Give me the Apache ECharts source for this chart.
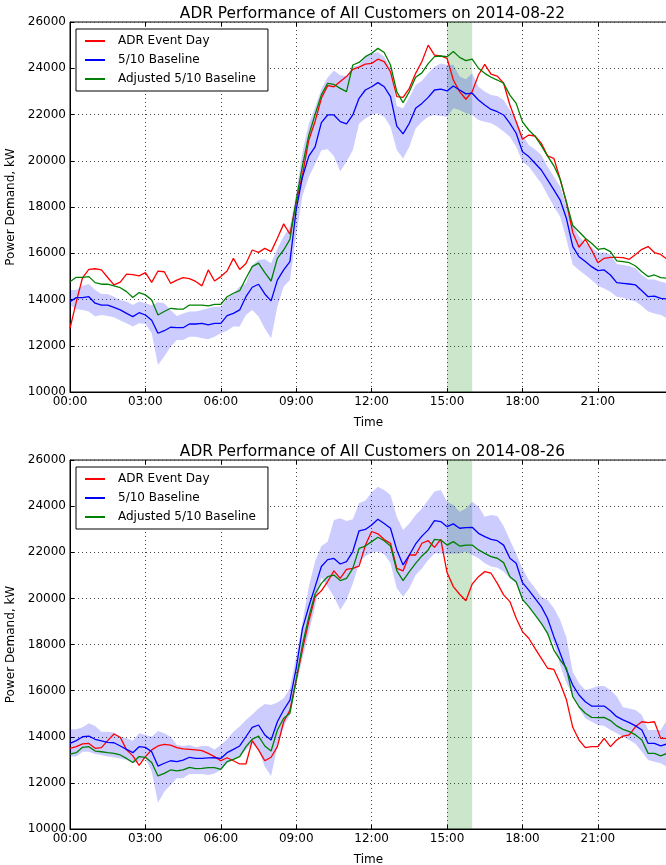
<!DOCTYPE html>
<html><head><meta charset="utf-8">
<script src="https://cdn.jsdelivr.net/npm/echarts@6/dist/echarts.min.js"></script>
<style>html,body{margin:0;padding:0;background:#fff}#c{width:666px;height:865px}</style>
</head><body><div id="c"></div>
<script>
// ---- data (15-minute intervals, 00:00 .. 23:45) ----
const titles = ['ADR Performance of All Customers on 2014-08-22', 'ADR Performance of All Customers on 2014-08-26'];
const seriesNames = ['ADR Event Day', '5/10 Baseline', 'Adjusted 5/10 Baseline'];
const eventStart = '15:00', eventEnd = '16:00';
const yMin = 10000, yMax = 26000, yStep = 2000;

const topRed = [12750,13900,14950,15300,15330,15280,14950,14630,14750,15100,15080,15020,15160,14740,15230,15200,14700,14840,14950,14900,14780,14590,15280,14800,
14990,15230,15780,15300,15560,16140,16040,16210,16070,16650,17270,16820,18200,19400,20900,21700,22700,23250,23200,23430,23640,23950,24050,24180,
24210,24390,24290,23850,22770,22740,23130,23780,24290,25000,24570,24530,24430,23490,22990,22660,22990,23710,24170,23750,23660,23350,22410,21690,
20930,21110,21070,20750,20210,20100,19200,18200,16900,16260,16600,16140,15590,15780,15820,15820,15810,15740,15950,16170,16290,16030,15950,15740];
const topBlue = [13910,14080,14080,14120,13840,13760,13760,13660,13550,13400,13260,13430,13330,13100,12540,12650,12800,12780,12780,12940,12940,12970,12900,12970,
12970,13300,13400,13550,14120,14530,14660,14240,13940,14840,15280,15640,17900,19300,20200,20600,21650,21980,21980,21690,21590,21980,22700,23060,
23200,23380,23200,22770,21500,21160,21620,22270,22480,22740,23060,23100,23020,23230,23060,22890,22920,22630,22410,22220,22120,21980,21620,21190,
20390,20180,19890,19600,19170,18740,18300,17500,16300,15850,15640,15420,15250,15280,15060,14730,14700,14670,14630,14380,14120,14150,14050,14020];
const topGreen = [14770,14960,14960,14990,14730,14660,14660,14590,14510,14340,14090,14300,14200,13980,13330,13480,13620,13590,13580,13760,13760,13760,13720,13790,
13790,14120,14270,14380,14920,15420,15570,15160,14800,15780,16140,16600,18300,19800,21100,22000,22850,23350,23300,23130,22990,24140,24250,24500,
24650,24860,24680,24140,22990,22510,22990,23610,23800,24200,24500,24530,24500,24720,24470,24330,24390,24000,23780,23610,23490,23350,22840,22480,
21680,21330,21060,20650,20200,19780,19200,18200,17200,16930,16650,16430,16170,16210,16070,15670,15640,15590,15450,15200,14990,15060,14950,14920];
const topBandLow = [13760,13580,13550,13480,13260,13330,13290,13230,13090,12970,12830,12970,12940,12540,11170,11530,11960,12250,12250,12390,12390,12320,12280,12390,
12540,12650,12830,12830,13330,13550,13260,12750,12320,13690,14560,14840,16800,18500,19300,19850,20450,20500,20200,19530,19960,20450,21600,21830,
21980,22050,21900,21470,20470,20100,20610,21400,21690,21900,21980,21940,21900,22270,22200,22050,21980,21760,21690,21620,21470,21260,21040,20610,
19960,19750,19380,19020,18520,18020,17580,16600,15500,15280,15060,14840,14590,14480,14340,14120,14080,13980,13910,13720,13480,13400,13330,13190];
const topBandHigh = [14410,14410,14590,14670,14410,14240,14240,14120,13980,13910,13760,13910,13840,13750,13880,13840,13550,13290,13400,13480,13480,13550,13620,13690,
13690,14050,14270,14560,14700,15490,15710,15740,15570,16210,16720,17150,18600,20400,21600,22300,23100,23600,23900,23700,23660,24070,24140,24500,
24650,24690,24500,24000,22370,22270,22740,23280,23460,23780,24070,24210,24140,24150,23640,23520,23780,23200,22990,22840,22800,22630,22200,21760,
21110,20680,20490,20250,19750,19310,18880,18100,17220,16720,16430,16260,16030,16030,15950,15540,15490,15450,15350,15060,14870,14870,14770,14700];

const botRed = [13500,13570,13690,13710,13500,13530,13830,14120,13980,13430,13170,12760,13140,13430,13600,13670,13640,13530,13470,13450,13430,13400,13280,13140,
12960,13090,12960,12820,12820,13830,13430,12960,13110,13570,14650,15160,16460,17800,19000,20070,20330,20730,21190,20870,21260,21300,21400,22300,
22900,22800,22550,22390,21300,21190,21880,21880,22390,22500,22210,22560,21120,20510,20180,19900,20620,20940,21160,21090,20650,20150,19860,19140,
18560,18270,17830,17400,16970,16920,16320,15600,14410,13860,13530,13570,13570,13930,13570,13860,14030,14080,14440,14650,14610,14650,13930,13930];
const botBlue = [13710,13830,14000,14030,13890,13820,13760,13740,13600,13450,13310,13570,13540,13350,12730,12850,12960,12920,12990,13110,13060,13060,13080,13090,
13060,13310,13450,13600,14000,14410,14510,14080,13860,14650,15160,15590,16980,18700,19650,20500,21380,21680,21730,21490,21590,22030,22930,22990,
23180,23430,23250,23040,22100,21450,21880,22360,22700,22970,23370,23330,23110,23230,23040,23070,23080,22820,22680,22560,22500,22310,21740,21520,
20680,20360,20000,19640,19130,18340,17620,16890,16240,15810,15520,15330,15330,15330,15130,14870,14730,14610,14470,14290,13710,13710,13600,13690];
const botGreen = [13250,13310,13540,13570,13380,13350,13310,13280,13210,13060,12880,13140,13110,12880,12300,12410,12560,12520,12560,12670,12620,12630,12660,12660,
12590,12920,13020,13140,13570,13890,14030,13600,13380,14290,14800,15020,16490,18000,19200,20200,20650,20940,21010,20770,20870,21300,22170,22270,
22460,22650,22500,22270,21200,20770,21160,21520,21840,22100,22560,22530,22310,22460,22270,22310,22310,22100,21950,21810,21740,21550,20940,20720,
19960,19640,19280,18920,18480,17760,17330,16970,15740,15300,15020,14840,14830,14840,14700,14470,14320,14220,14080,13860,13280,13280,13170,13280];
const botBandLow = [13140,13140,13350,13350,13250,13210,13140,13110,13060,12990,12850,12920,13060,12490,11140,11620,11910,12200,12200,12390,12390,12390,12340,12410,
12560,12850,12990,13140,13430,13710,13430,12700,12300,13570,14440,14940,16200,17400,18500,19640,20900,20500,20070,19500,19930,20650,21520,21840,
21980,22030,21910,21520,20440,20070,20440,21010,21300,21660,21950,21950,21910,21950,21950,22030,21880,21740,21520,21380,21330,21160,20870,20650,
19930,19640,19280,18850,18410,18050,17100,16320,15810,15230,14800,14650,14510,14470,14290,14150,14000,13860,13690,13350,12990,12920,12850,12700];
const botBandHigh = [14320,14320,14410,14580,14470,14220,14220,14180,14000,13930,13830,14150,14080,14000,14250,14150,14000,13640,13600,13640,13540,13600,13600,13450,
13640,13890,14220,14440,14730,14970,15230,15420,15380,15480,15670,16100,17500,19000,20500,21600,22270,22460,23400,23470,23360,23430,24120,24240,
24600,24840,24700,24480,23540,22970,23250,23620,23900,24270,24630,24700,24190,24050,23760,23900,24190,23980,23540,23620,23570,23140,22530,21950,
21300,20800,20440,20070,19930,19570,19060,18300,16820,16320,16030,16100,16200,16200,16030,15740,15280,15230,15160,14940,14290,14290,14290,14730];

// category labels: every quarter hour
const times = [];
for (let h = 0; h < 24; h++) for (let m = 0; m < 60; m += 15)
  times.push(String(h).padStart(2,'0') + ':' + String(m).padStart(2,'0'));

// ---- layout ----
const FONT = 'DejaVu Sans';
const grids = [
  {left: 70, top: 22, width: 597, height: 370},
  {left: 70, top: 460, width: 597, height: 369}
];
const sets = [
  {red: topRed, blue: topBlue, green: topGreen, lo: topBandLow, hi: topBandHigh},
  {red: botRed, blue: botBlue, green: botGreen, lo: botBandLow, hi: botBandHigh}
];

const option = {
  animation: false,
  backgroundColor: '#fff',
  textStyle: {fontFamily: FONT},
  title: grids.map((g, k) => ({
    text: titles[k], left: g.left + g.width / 2 - 1, textAlign: 'center', top: g.top - 21,
    textStyle: {fontFamily: FONT, fontSize: 15.4, fontWeight: 'normal', color: '#000'}
  })),
  legend: grids.map((g, k) => ({
    data: seriesNames, orient: 'vertical', left: 76, top: g.top + 7,
    backgroundColor: '#fff', borderColor: '#000', borderWidth: 1, borderRadius: 0,
    padding: [5, 12, 5, 9], itemGap: 5, itemWidth: 20, itemHeight: 2, icon: 'rect',
    textStyle: {fontFamily: FONT, fontSize: 12, color: '#000', lineHeight: 14, padding: [0, 0, 0, 8]}
  })),
  grid: grids.map(g => Object.assign({show: true, borderColor: '#000', borderWidth: 1, backgroundColor: 'transparent',
    containLabel: false, outerBoundsMode: 'none'}, g)),
  xAxis: [],
  yAxis: [],
  series: []
};

grids.forEach((g, k) => {
  option.xAxis.push({
    type: 'category', gridIndex: k, data: times, boundaryGap: false,
    name: 'Time', nameLocation: 'middle', nameGap: 25,
    nameTextStyle: {fontFamily: FONT, fontSize: 12, color: '#000'},
    axisLine: {show: true, lineStyle: {color: '#000', width: 1}},
    axisTick: {show: true, inside: true, interval: 11, length: 4, lineStyle: {color: '#000'}},
    axisLabel: {interval: 11, margin: 4, fontFamily: FONT, fontSize: 12, color: '#000'},
    splitLine: {show: true, interval: 11, lineStyle: {color: '#444', type: [1, 3], width: 1}}
  });
  option.xAxis.push({
    type: 'category', gridIndex: k, data: times, boundaryGap: false, position: 'top',
    axisLine: {show: false},
    axisTick: {show: true, inside: true, interval: 11, length: 4, lineStyle: {color: '#000'}},
    axisLabel: {show: false}, splitLine: {show: false}
  });
  option.yAxis.push({
    type: 'value', gridIndex: k, min: yMin, max: yMax, interval: yStep,
    name: 'Power Demand, kW', nameLocation: 'middle', nameGap: 53, nameRotate: 90,
    nameTextStyle: {fontFamily: FONT, fontSize: 12, color: '#000'},
    axisLine: {show: true, lineStyle: {color: '#000', width: 1}},
    axisTick: {show: true, inside: true, length: 4, lineStyle: {color: '#000'}},
    axisLabel: {margin: 4, fontFamily: FONT, fontSize: 12, color: '#000', formatter: v => String(v)},
    splitLine: {show: true, lineStyle: {color: '#444', type: [1, 3], width: 1}}
  });
  const s = sets[k];
  const xi = k * 2;
  option.series.push({
    type: 'line', name: 'band-low-' + k, xAxisIndex: xi, yAxisIndex: k, stack: 'band' + k,
    data: s.lo, symbol: 'none', silent: true, lineStyle: {opacity: 0}, z: 1
  });
  option.series.push({
    type: 'line', name: 'band-' + k, xAxisIndex: xi, yAxisIndex: k, stack: 'band' + k,
    data: s.hi.map((v, i) => v - s.lo[i]), symbol: 'none', silent: true,
    lineStyle: {opacity: 0}, areaStyle: {color: 'rgba(0,0,255,0.2)', opacity: 1}, z: 1
  });
  option.series.push({
    type: 'line', name: 'event-' + k, xAxisIndex: xi, yAxisIndex: k, data: times.map(() => null),
    symbol: 'none', silent: true, z: 2,
    markArea: {silent: true, itemStyle: {color: 'rgba(0,128,0,0.2)'}, data: [[{xAxis: eventStart}, {xAxis: eventEnd}]]}
  });
  [[seriesNames[0], s.red, '#ff0000'], [seriesNames[1], s.blue, '#0000ff'], [seriesNames[2], s.green, '#008000']].forEach(([n, d, c]) => {
    option.series.push({
      type: 'line', name: n, xAxisIndex: xi, yAxisIndex: k, data: d, symbol: 'none',
      lineStyle: {color: c, width: 1.3}, itemStyle: {color: c}, z: 3
    });
  });
});

const chart = echarts.init(document.getElementById('c'), null, {renderer: 'canvas'});
chart.setOption(option);
</script>
</body></html>
